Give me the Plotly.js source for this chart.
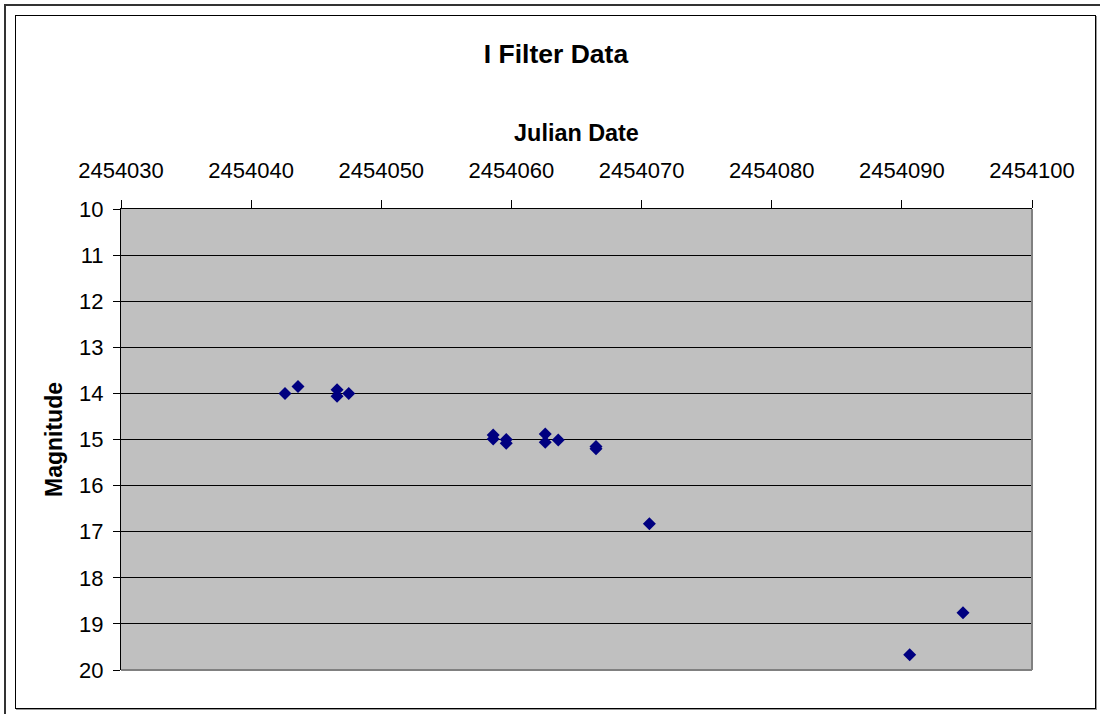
<!DOCTYPE html>
<html>
<head>
<meta charset="utf-8">
<script src="https://cdn.plot.ly/plotly-3.0.1.min.js"></script>
<style>
  html, body { margin: 0; padding: 0; background: #fff; }
  #wrap { position: relative; width: 1100px; height: 714px; overflow: hidden; }
  #chart { position: absolute; left: 0; top: 0; width: 1100px; height: 714px; }
  .frame { position: absolute; pointer-events: none; box-sizing: border-box; }
  #outer { left: 4px; top: 4px; width: 1200px; height: 800px; border-left: 2px solid #333; border-top: 2px solid #333; }
  #inner { left: 15px; top: 15px; width: 1081px; height: 694px; border: 1px solid #000; box-shadow: 1px 1px 0 #999; }
</style>
</head>
<body>
<div id="wrap">
  <div id="chart"></div>
  <div class="frame" id="outer"></div>
  <div class="frame" id="inner"></div>
</div>
<script>
const julianDate = [2454042.6, 2454043.6, 2454046.6, 2454046.6, 2454047.5,
                    2454058.6, 2454058.6, 2454059.6, 2454059.6,
                    2454062.6, 2454062.6, 2454063.6, 2454066.5, 2454066.5,
                    2454070.6, 2454090.6, 2454094.7];
const magnitude = [14.0, 13.85, 13.92, 14.06, 14.0,
                   14.9, 14.99, 15.0, 15.08,
                   14.88, 15.06, 15.01, 15.15, 15.2,
                   16.83, 19.67, 18.76];
const xTicks = [2454030, 2454040, 2454050, 2454060, 2454070, 2454080, 2454090, 2454100];
const yTicks = [10, 11, 12, 13, 14, 15, 16, 17, 18, 19, 20];

const font = 'Liberation Sans, Arial, sans-serif';

const trace = {
  x: julianDate,
  y: magnitude,
  type: 'scatter',
  mode: 'markers',
  marker: { symbol: 'diamond', size: 10, color: '#000080', line: { width: 0 } },
  hoverinfo: 'x+y'
};

const layout = {
  width: 1100,
  height: 714,
  margin: { l: 121, r: 68, t: 209, b: 44 },
  paper_bgcolor: '#ffffff',
  plot_bgcolor: '#c0c0c0',
  showlegend: false,
  title: {
    text: '<b>I Filter Data</b>',
    font: { family: font, size: 26.5, color: '#000' },
    x: 556 / 1100, xref: 'container', xanchor: 'center',
    y: 1 - 54 / 714, yref: 'container', yanchor: 'middle'
  },
  xaxis: {
    side: 'top',
    range: [2454030, 2454100],
    tickvals: xTicks,
    ticktext: xTicks.map(String),
    tickfont: { family: font, size: 22, color: '#000' },
    ticks: 'outside', ticklen: 8, tickcolor: '#000', tickwidth: 1,
    ticklabelstandoff: 13,
    showgrid: false,
    showline: true, linecolor: '#000', linewidth: 1,
    zeroline: false,
    title: { text: '<b>Julian Date</b>', font: { family: font, size: 23.4, color: '#000' }, standoff: 10 }
  },
  yaxis: {
    range: [20, 10],
    tickvals: yTicks,
    ticktext: yTicks.map(String),
    tickfont: { family: font, size: 22, color: '#000' },
    ticks: 'outside', ticklen: 7, tickcolor: '#000', tickwidth: 1,
    ticklabelstandoff: 5,
    showgrid: true, gridcolor: '#000', gridwidth: 1,
    showline: true, linecolor: '#000', linewidth: 1,
    zeroline: false,
    title: { text: '<b>Magnitude</b>', font: { family: font, size: 23, color: '#000' }, standoff: 10 }
  },
  shapes: [
    { type: 'line', xref: 'x domain', yref: 'y domain', x0: 1, x1: 1, y0: 0, y1: 1, line: { color: '#808080', width: 2 }, layer: 'above' },
    { type: 'line', xref: 'x domain', yref: 'y domain', x0: 0, x1: 1, y0: 0, y1: 0, line: { color: '#808080', width: 2 }, layer: 'above' }
  ]
};

Plotly.newPlot('chart', [trace], layout, { displayModeBar: false, staticPlot: true });
</script>
</body>
</html>
